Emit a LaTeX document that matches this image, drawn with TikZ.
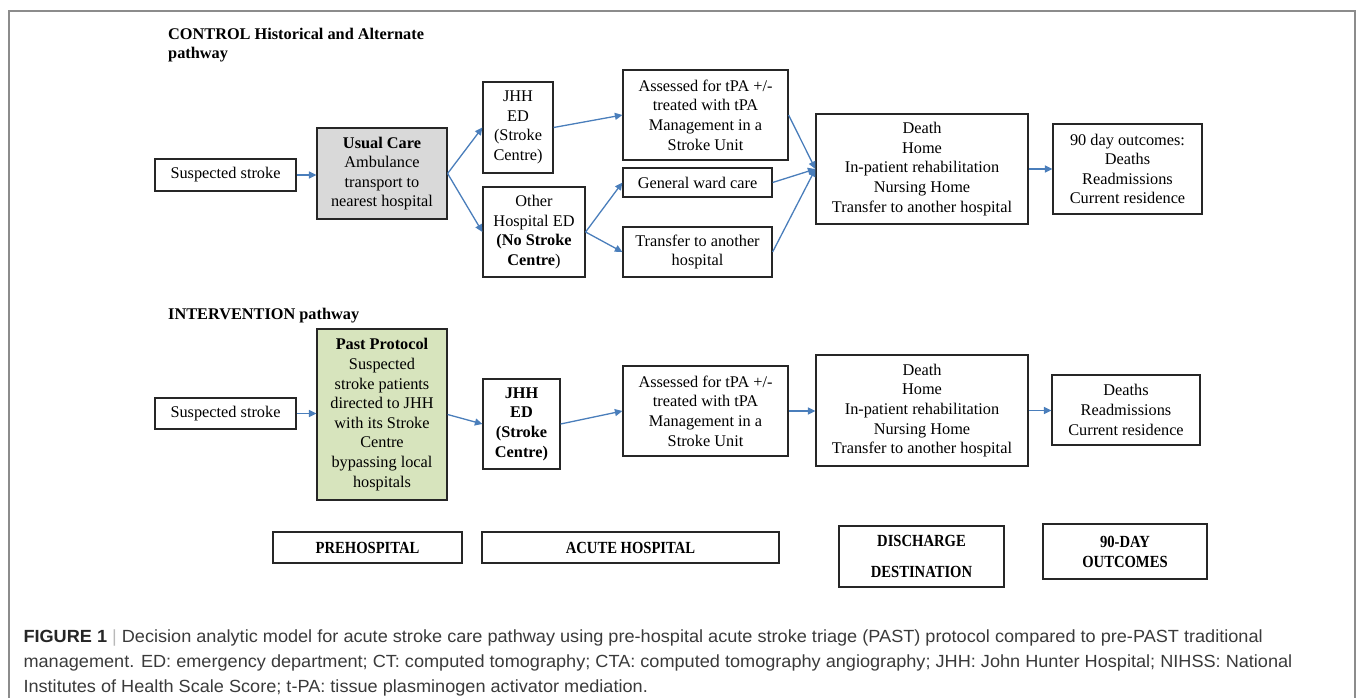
\documentclass[tikz,border=0pt]{standalone}
\usepackage{graphicx}
\usepackage{fontspec}
\setmainfont{Liberation Serif}
\newfontfamily\capfont{Liberation Sans}
\usetikzlibrary{arrows.meta}
\definecolor{arrowblue}{HTML}{4A7EBB}
\definecolor{boxgray}{HTML}{D9D9D9}
\definecolor{boxgreen}{HTML}{D7E4BD}
\definecolor{frameg}{HTML}{8C8C8C}
\definecolor{captext}{HTML}{3A3A3A}
\newcommand\sx[1]{\scalebox{0.86}[1]{#1}}
\begin{document}
\begin{tikzpicture}[x=1pt,y=-1pt,
 box/.style={draw=black!85, line width=1.2pt, inner sep=0pt, align=center, font=\fontsize{16.3}{19.6}\selectfont},
 arr/.style={draw=arrowblue, line width=1.3pt, -{Triangle[length=7.5pt,width=7pt]}},
 ttl/.style={font=\fontsize{16.3}{19.6}\selectfont\bfseries, anchor=base west, inner sep=0pt},
 lbl/.style={box, font=\fontsize{17}{31}\selectfont\bfseries},
]
\newcommand\bx[7][]{\node[box,#1,minimum width={(#5)-(#3)},minimum height={(#6)-(#4)}] (#2) at ({((#3)+(#5))/2},{((#4)+(#6))/2}) {#7};}
\useasboundingbox (0,0) rectangle (1357,697);
\draw[frameg, line width=1.3pt] (9,705) -- (9,11) -- (1355,11) -- (1355,705);

% titles
\node[ttl] (ttlA) at (168,39) {CONTROL Historical and Alternate};
\node[ttl] (ttlAb) at (168,58) {pathway};
\node[ttl] (ttlB) at (168,319) {INTERVENTION pathway};

% control pathway
\bx{s1}{155}{159}{296}{191}{Suspected stroke}
\bx[fill=boxgray]{u1}{317}{128}{447}{219}{\textbf{Usual Care}\\Ambulance\\transport to\\nearest hospital}
\bx{j1}{483}{82}{553}{173}{JHH\\ED\\(Stroke\\Centre)}
\bx{o1}{483}{187}{585}{277}{Other\\Hospital ED\\\textbf{(No Stroke}\\\textbf{Centre})}
\bx{a1}{623}{70}{788}{160}{Assessed for tPA +/-\\treated with tPA\\Management in a\\Stroke Unit}
\bx{g1}{623}{168}{772}{197}{General ward care}
\bx{tr1}{623}{227}{772}{277}{Transfer to another\\hospital}
\bx{d1}{816}{114}{1028}{224}{Death\\Home\\In-patient rehabilitation\\Nursing Home\\Transfer to another hospital}
\bx{n1}{1053}{124}{1202}{214}{90 day outcomes:\\Deaths\\Readmissions\\Current residence}

% intervention pathway
\bx{s2}{155}{398}{296}{429}{Suspected stroke}
\bx[fill=boxgreen]{p2}{317}{329}{447}{500}{\textbf{Past Protocol}\\Suspected\\stroke patients\\directed to JHH\\with its Stroke\\Centre\\bypassing local\\hospitals}
\bx[font=\fontsize{16.3}{19.6}\selectfont\bfseries]{j2}{483}{379}{560}{469}{JHH\\ED\\(Stroke\\Centre)}
\bx{a2}{623}{366}{788}{456}{Assessed for tPA +/-\\treated with tPA\\Management in a\\Stroke Unit}
\bx{d2}{816}{355}{1028}{466}{Death\\Home\\In-patient rehabilitation\\Nursing Home\\Transfer to another hospital}
\bx{n2}{1052}{375}{1200}{445}{Deaths\\Readmissions\\Current residence}

% stage labels
\bx[lbl]{pre}{273}{532}{462}{563}{\sx{PREHOSPITAL}}
\bx[lbl]{acute}{482}{532}{779}{563}{\sx{ACUTE HOSPITAL}}
\bx[lbl]{dis}{839}{526}{1004}{587}{\sx{DISCHARGE}\\\sx{DESTINATION}}
\bx[lbl,font=\fontsize{17}{20}\selectfont\bfseries]{out}{1043}{524}{1207}{579}{\sx{90-DAY}\\\sx{OUTCOMES}}

% arrows control
\draw[arr] (s1.east) -- (s1.east -| u1.west);
\draw[arr] (u1.east) -- (j1.west);
\draw[arr] (u1.east) -- (o1.west);
\draw[arr] (j1.east) -- (a1.west);
\draw[arr] (o1.east) -- (g1.west);
\draw[arr] (o1.east) -- (tr1.west);
\draw[arr] (a1.east) -- (d1.west);
\draw[arr] (g1.east) -- (d1.west);
\draw[arr] (tr1.east) -- (d1.west);
\draw[arr] (d1.east) -- (d1.east -| n1.west);
% arrows intervention
\draw[arr] (s2.east) -- (s2.east -| p2.west);
\draw[arr] (p2.east) -- (j2.west);
\draw[arr] (j2.east) -- (a2.west);
\draw[arr] (a2.east) -- (a2.east -| d2.west);
\draw[arr] (d2.east) -- (d2.east -| n2.west);

% caption
\node[anchor=north west, inner sep=0pt, align=left, text=captext,
      font=\capfont\fontsize{17.6}{25}\selectfont, xscale=1.03, transform shape] (cap) at (23.3,630)
 {{\bfseries\color{black!85}FIGURE 1} {\color{gray!55}|} Decision analytic model for acute stroke care pathway using pre-hospital acute stroke triage (PAST) protocol compared to pre-PAST traditional\\
  management. ED: emergency department; CT: computed tomography; CTA: computed tomography angiography; JHH: John Hunter Hospital; NIHSS: National\\
  Institutes of Health Scale Score; t-PA: tissue plasminogen activator mediation.};
\end{tikzpicture}
\end{document}
